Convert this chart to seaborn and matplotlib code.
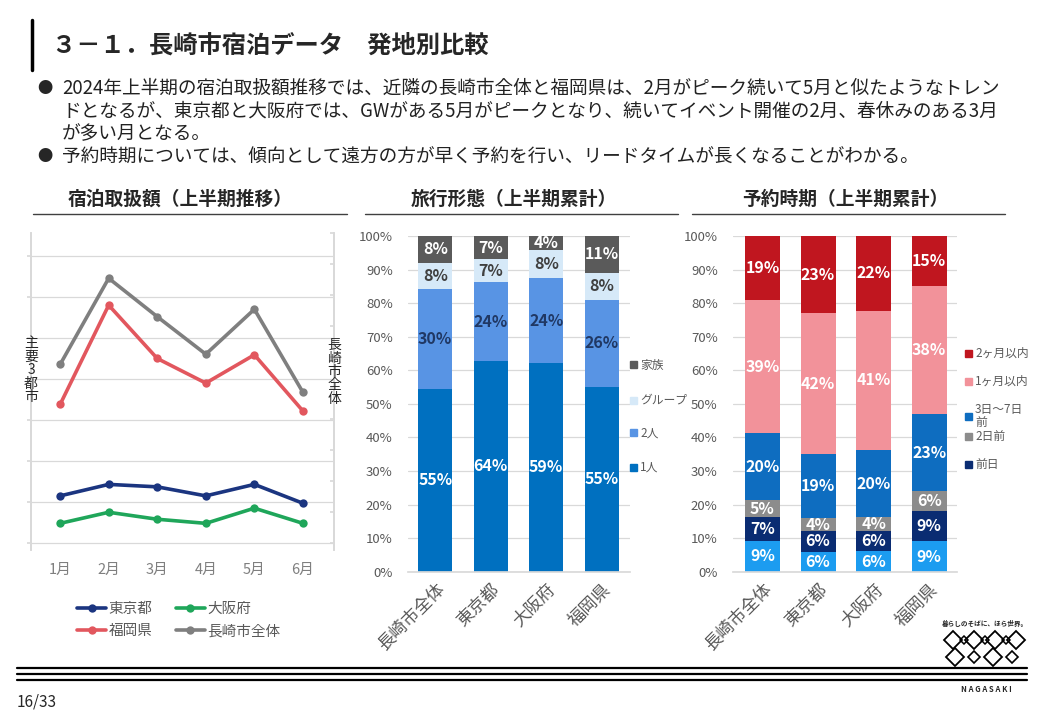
import matplotlib
matplotlib.use("Agg")
import matplotlib.pyplot as plt
import seaborn as sns
import pandas as pd
import numpy as np
from matplotlib.patches import Rectangle
from matplotlib.lines import Line2D

# ----- データ -----
months = ['1月', '2月', '3月', '4月', '5月', '6月']
tokyo = [1.15, 1.43, 1.37, 1.15, 1.43, 0.97]
osaka = [0.48, 0.75, 0.58, 0.48, 0.85, 0.48]
fukuoka = [3.38, 5.80, 4.50, 3.90, 4.59, 3.22]
nagasaki_all = [5.76, 8.54, 7.30, 6.09, 7.54, 4.86]   # 右軸

areas = ['長崎市全体', '東京都', '大阪府', '福岡県']

style_names = ['1人', '2人', 'グループ', '家族']
style_1 = [55, 64, 59, 55]
style_2 = [30, 24, 24, 26]
style_group = [8, 7, 8, 8]
style_family = [8, 7, 4, 11]

timing_names = ['当日', '前日', '2日前', '3日～7日前', '1ヶ月以内', '2ヶ月以内']
timing_0 = [9, 6, 6, 9]
timing_1 = [7, 6, 6, 9]
timing_2 = [5, 4, 4, 6]
timing_3 = [20, 19, 20, 23]
timing_4 = [39, 42, 41, 38]
timing_5 = [19, 23, 22, 15]

sns.set_theme(style='white')
plt.rcParams['font.family'] = ['Noto Sans CJK JP', 'DejaVu Sans']

W, H = 1040, 720
fig = plt.figure(figsize=(10.4, 7.2), dpi=100)


def box(l, t, r, b):
    return [l / W, 1 - b / H, (r - l) / W, (b - t) / H]


def fx(x):
    return x / W


def fy(y):
    return 1 - y / H


GRID = '#d9d9d9'
TXT = '#595959'

# ----- スライド見出し -----
fig.add_artist(Line2D([fx(32), fx(32)], [fy(20), fy(70)], lw=2.5, color='black'))
fig.text(fx(52), fy(46), '３－１．長崎市宿泊データ　発地別比較', fontsize=17.5, fontweight='bold', va='center')

bullets = [
    (88, '●', '2024年上半期の宿泊取扱額推移では、近隣の長崎市全体と福岡県は、2月がピーク続いて5月と似たようなトレン'),
    (111, '', 'ドとなるが、東京都と大阪府では、GWがある5月がピークとなり、続いてイベント開催の2月、春休みのある3月'),
    (134, '', 'が多い月となる。'),
    (157, '●', '予約時期については、傾向として遠方の方が早く予約を行い、リードタイムが長くなることがわかる。'),
]
for y, mark, s in bullets:
    if mark:
        fig.text(fx(45), fy(y), mark, fontsize=11, va='center', ha='center')
    fig.text(fx(62), fy(y), s, fontsize=13.45, va='center', color='#222222')

# セクション見出し
for cx, l, r, title in [(180, 33, 347, '宿泊取扱額（上半期推移）'),
                        (514, 365, 678, '旅行形態（上半期累計）'),
                        (845, 692, 1005, '予約時期（上半期累計）')]:
    fig.text(fx(cx), fy(199), title, fontsize=13.5, fontweight='bold', ha='center', va='center')
    fig.add_artist(Line2D([fx(l), fx(r)], [fy(214), fy(214)], lw=1, color='#404040'))

# ----- 1. 宿泊取扱額（折れ線） -----
line_df = pd.DataFrame({'月': months, '東京都': tokyo, '大阪府': osaka,
                        '福岡県': fukuoka, '長崎市全体': nagasaki_all})
line_colors = {'東京都': '#1b3580', '大阪府': '#1fa65a', '福岡県': '#e2575e', '長崎市全体': '#7f7f7f'}

ax1 = fig.add_axes(box(31, 233, 334, 550))
ax1r = ax1.twinx()
for name in ['東京都', '大阪府', '福岡県']:
    sns.lineplot(data=line_df, x='月', y=name, ax=ax1, color=line_colors[name], lw=2.6,
                 marker='o', markersize=6, markeredgewidth=0, sort=False, legend=False)
sns.lineplot(data=line_df, x='月', y='長崎市全体', ax=ax1r, color=line_colors['長崎市全体'], lw=2.6,
             marker='o', markersize=6, markeredgewidth=0, sort=False, legend=False)

ax1.set_xlim(-0.6, 5.64)
ax1.set_ylim(-0.17, 7.56)
ax1r.set_ylim(-0.226, 10)
ax1.set_yticks(range(0, 8))
ax1r.set_yticks(range(0, 11))
ax1.set_yticklabels([])
ax1r.set_yticklabels([])
ax1.grid(axis='y', color=GRID, lw=0.9)
ax1.set_xlabel('')
ax1.set_ylabel('')
ax1r.set_ylabel('')
for a in (ax1, ax1r):
    for sp in ('top', 'bottom'):
        a.spines[sp].set_visible(False)
    a.spines['left'].set_color(GRID)
    a.spines['right'].set_color(GRID)
ax1.tick_params(axis='x', length=0, labelsize=10.5, labelcolor='#7f7f7f', pad=9)
ax1.tick_params(axis='y', length=3, color=GRID, left=True, direction='out')
ax1r.tick_params(axis='y', length=3, color=GRID, right=True, direction='in')

fig.text(fx(31), fy(370), '\n'.join('主要3都市'), fontsize=10, ha='center', va='center', linespacing=0.95)
fig.text(fx(334), fy(372), '\n'.join('長崎市全体'), fontsize=10, ha='center', va='center', linespacing=0.95)

handles = [Line2D([], [], color=line_colors[n], lw=2.6, marker='o', markersize=6, markeredgewidth=0)
           for n in ['東京都', '福岡県', '大阪府', '長崎市全体']]
fig.legend(handles, ['東京都', '福岡県', '大阪府', '長崎市全体'], ncol=2, loc='upper left',
           bbox_to_anchor=(fx(64), fy(589)), frameon=False, fontsize=10.5, labelcolor=TXT,
           handlelength=2.0, handletextpad=0.15, columnspacing=1.6, labelspacing=0.55)


# ----- 積み上げ棒グラフ共通 -----
def stacked(ax, series, names, colors, label_colors, width):
    vals = np.array(series, dtype=float)
    shares = vals / vals.sum(axis=0) * 100
    cum = np.cumsum(shares, axis=0)
    for k in range(len(series) - 1, -1, -1):
        sns.barplot(x=areas, y=cum[k], color=colors[k], saturation=1, width=width,
                    errorbar=None, linewidth=0, ax=ax, zorder=2)
    for k in range(len(series)):
        for i in range(len(areas)):
            mid = cum[k][i] - shares[k][i] / 2
            ax.text(i, mid, f'{int(vals[k][i])}%', ha='center', va='center',
                    fontsize=11.5, fontweight='bold', color=label_colors[k], zorder=5)
    ax.set_ylim(0, 100)
    ax.set_yticks(range(0, 101, 10))
    ax.set_yticklabels([f'{v}%' for v in range(0, 101, 10)])
    ax.grid(axis='y', color=GRID, lw=0.9, zorder=0)
    ax.set_axisbelow(True)
    for sp in ('top', 'left', 'right'):
        ax.spines[sp].set_visible(False)
    ax.spines['bottom'].set_color(GRID)
    ax.tick_params(axis='y', length=0, labelsize=9.5, labelcolor=TXT, pad=11)
    ax.tick_params(axis='x', length=0, labelsize=12.5, labelcolor=TXT, pad=6)
    plt.setp(ax.get_xticklabels(), rotation=45, ha='right', rotation_mode='anchor')
    ax.set_xlabel('')
    ax.set_ylabel('')


def legend_items(x, ys, colors, labels, size):
    for y, c, lab in zip(ys, colors, labels):
        fig.patches.append(Rectangle((fx(x - 3.5), fy(y + 3.5)), 7 / W, 7 / H,
                                     transform=fig.transFigure, color=c, figure=fig))
        fig.text(fx(x + 7), fy(y), lab, fontsize=size, color=TXT, va='center', ha='left',
                 linespacing=1.0)


# ----- 2. 旅行形態 -----
style_colors = ['#0070c0', '#5894e4', '#d6e9f8', '#5a5a5a']
style_label_colors = ['white', '#203864', '#404040', 'white']
ax2 = fig.add_axes(box(408, 236, 630, 571.7))
stacked(ax2, [style_1, style_2, style_group, style_family], style_names,
        style_colors, style_label_colors, 0.61)
ax2.set_xlim(-0.49, 3.51)
legend_items(633, [467, 433, 400, 365], style_colors, style_names, 8.5)

# ----- 3. 予約時期 -----
timing_colors = ['#1c9cf0', '#0a2c72', '#8c8c8c', '#0e6dc0', '#f2929a', '#c0161f']
ax3 = fig.add_axes(box(733, 236, 957, 571.7))
stacked(ax3, [timing_0, timing_1, timing_2, timing_3, timing_4, timing_5], timing_names,
        timing_colors, ['white'] * 6, 0.63)
ax3.set_xlim(-0.53, 3.5)
leg_labels = [n if len(n) < 6 else n[:5] + '\n' + n[5:] for n in timing_names[1:]]
leg_ys = [464, 436, 416, 381, 353]
legend_items(968, leg_ys, timing_colors[1:], leg_labels, 8.5)

# ----- フッター -----
for y in (668, 674, 680):
    fig.add_artist(Line2D([fx(17), fx(1027)], [fy(y), fy(y)], lw=1.6, color='black'))
fig.text(fx(17), fy(702), '16/33', fontsize=11, va='center', ha='left')
fig.text(fx(986), fy(689), 'N A G A S A K I', fontsize=5.5, fontweight='bold', ha='center', va='center')
fig.text(fx(985), fy(623), '暮らしのそばに、ほら世界。', fontsize=4.8, fontweight='bold', ha='center', va='center')
fig.add_artist(Line2D([fx(v) for v in (953, 974, 995, 1016)], [fy(640)] * 4, ls='none', marker='D',
                      markersize=9, fillstyle='none', markeredgewidth=1.3, color='black'))
fig.add_artist(Line2D([fx(v) for v in (963.5, 984.5, 1005.5)], [fy(640)] * 3, ls='none', marker='D',
                      markersize=4, fillstyle='none', markeredgewidth=1.1, color='black'))
fig.add_artist(Line2D([fx(v) for v in (955, 993)], [fy(657)] * 2, ls='none', marker='D',
                      markersize=9, fillstyle='none', markeredgewidth=1.3, color='black'))
fig.add_artist(Line2D([fx(v) for v in (974, 1012)], [fy(657)] * 2, ls='none', marker='D',
                      markersize=6, fillstyle='none', markeredgewidth=1.2, color='black'))

fig.savefig('out.png', dpi=100, facecolor='white')
